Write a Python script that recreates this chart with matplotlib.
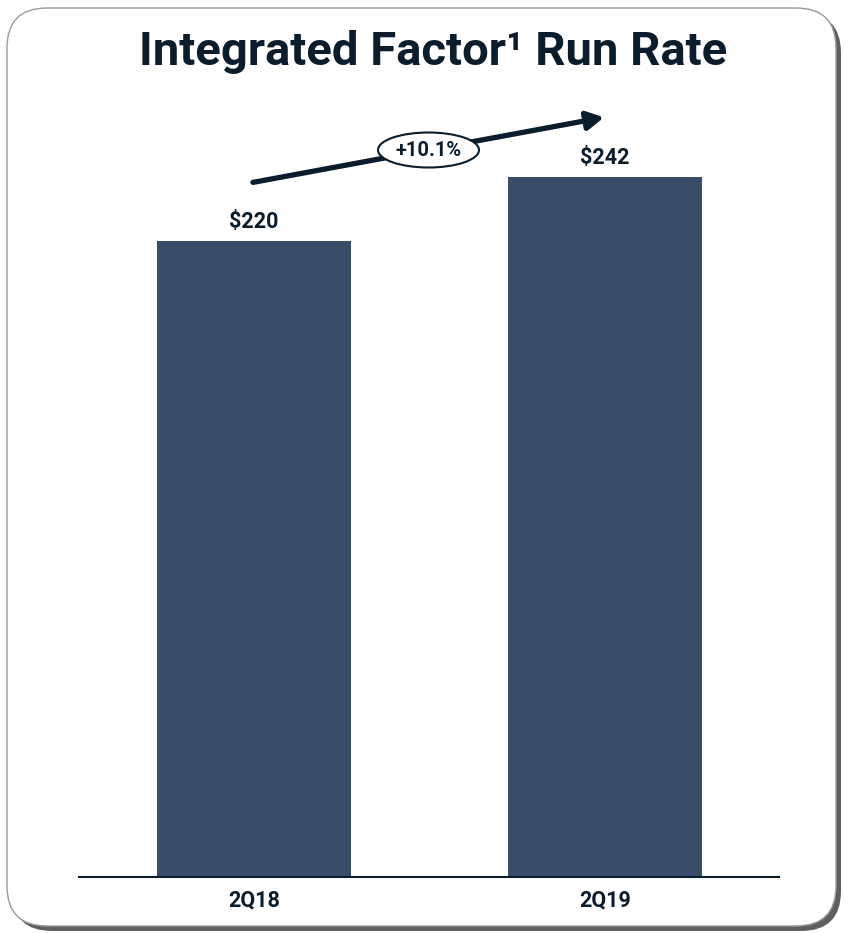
import matplotlib
matplotlib.use("Agg")
import matplotlib.pyplot as plt
from matplotlib.patches import FancyBboxPatch, Ellipse

categories = ["2Q18", "2Q19"]
values = [220, 242]
value_labels = ["$220", "$242"]
growth_label = "+10.1%"
title = "Integrated Factor¹ Run Rate"

BAR = "#394d6b"
TXT = "#0b1d2c"

plt.rcParams['font.family'] = ['Roboto', 'DejaVu Sans']

fig = plt.figure(figsize=(8.45, 9.33), dpi=100)
fig.patch.set_facecolor("white")

# background overlay in pixel coordinates
bg = fig.add_axes([0, 0, 1, 1], zorder=0)
bg.set_xlim(0, 845)
bg.set_ylim(933, 0)
bg.axis("off")
shadow = FancyBboxPatch((12, 13), 829, 918, boxstyle="round,pad=0,rounding_size=40",
                        facecolor="#5f5f5f", edgecolor="none")
bg.add_patch(shadow)
box = FancyBboxPatch((7, 8), 829, 918, boxstyle="round,pad=0,rounding_size=40",
                     facecolor="white", edgecolor="#9a9a9a", linewidth=1.0)
bg.add_patch(box)

ax = fig.add_axes([79/845, 1-877/933, 700/845, 777/933], zorder=1)
ax.patch.set_alpha(0)
x = list(range(len(categories)))
ax.bar(x, values, width=0.553, color=BAR, zorder=2)
ax.set_xlim(-0.4986, 1.4957)
ax.set_ylim(0, 268.8)
for s in ["top", "right", "left"]:
    ax.spines[s].set_visible(False)
ax.spines["bottom"].set_color(TXT)
ax.spines["bottom"].set_linewidth(1.5)
ax.set_yticks([])
ax.set_xticks(x)
ax.set_xticklabels(categories, fontsize=15.5, fontweight="bold", color=TXT)
ax.tick_params(axis="x", length=0, pad=9)

for xi, v, lab in zip(x, values, value_labels):
    ax.annotate(lab, (xi, v), xytext=(0, 6), textcoords="offset points",
                ha="center", va="bottom", fontsize=15.5, fontweight="bold", color=TXT)

# growth arrow
ax.annotate("", xy=(0.997, 262.8), xytext=(-0.003, 240.3),
            arrowprops=dict(arrowstyle="-|>,head_length=1.0,head_width=0.55",
                            color=TXT, lw=3.8, shrinkA=0, shrinkB=0), zorder=3)

ov = fig.add_axes([0, 0, 1, 1], zorder=2)
ov.set_xlim(0, 845)
ov.set_ylim(933, 0)
ov.axis("off")
el = Ellipse((428.5, 150), 101, 35, facecolor="white", edgecolor=TXT, linewidth=1.5, zorder=5)
ov.add_patch(el)
ov.text(428.5, 151, growth_label, ha="center", va="center", fontsize=14.5,
        fontweight="bold", color=TXT, zorder=6)
ov.text(433, 52, title, ha="center", va="center", fontsize=34,
        fontweight="bold", color=TXT)

fig.savefig("out.png", dpi=100)
